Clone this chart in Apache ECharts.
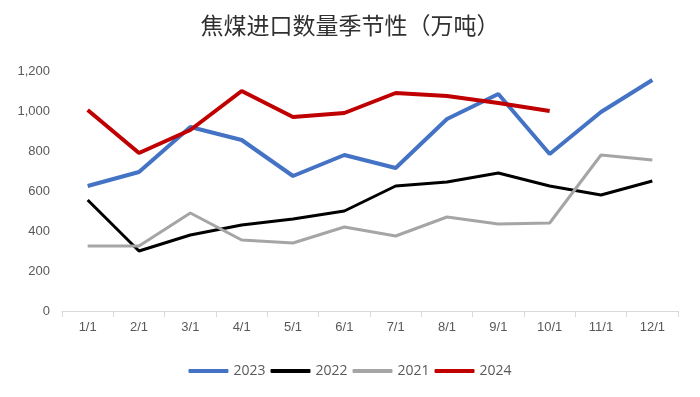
<!DOCTYPE html>
<html>
<head>
<meta charset="utf-8">
<script src="https://cdn.jsdelivr.net/npm/echarts@6/dist/echarts.min.js"></script>
<style>
  html, body { margin: 0; padding: 0; background: #fff; }
  #main { width: 700px; height: 397px; }
</style>
</head>
<body>
<div id="main"></div>
<script>
var months = ['1/1', '2/1', '3/1', '4/1', '5/1', '6/1', '7/1', '8/1', '9/1', '10/1', '11/1', '12/1'];
var y2023 = [625, 695, 920, 855, 675, 780, 715, 960, 1085, 785, 995, 1155];
var y2022 = [555, 300, 380, 430, 460, 500, 625, 645, 690, 625, 580, 650];
var y2021 = [325, 325, 490, 355, 340, 420, 375, 470, 435, 440, 780, 755];
var y2024 = [1005, 790, 905, 1100, 970, 990, 1090, 1075, 1040, 1000];

var chart = echarts.init(document.getElementById('main'));

function line(name, data, color, width) {
    return {
        name: name,
        type: 'line',
        data: data,
        symbol: 'none',
        lineStyle: { color: color, width: width },
        itemStyle: { color: color }
    };
}

chart.setOption({
    animation: false,
    title: {
        text: '焦煤进口数量季节性（万吨）',
        left: 'center',
        top: 9,
        textStyle: {
            fontFamily: 'Noto Sans CJK SC',
            fontSize: 23,
            fontWeight: 'normal',
            color: '#303030'
        }
    },
    legend: {
        bottom: 14,
        left: 'center',
        itemWidth: 40,
        itemHeight: 4,
        itemGap: 5,
        icon: 'roundRect',
        textStyle: { fontSize: 14, color: '#595959', fontFamily: 'Open Sans' },
        data: ['2023', '2022', '2021', '2024']
    },
    grid: { left: 62, right: 22, top: 71, bottom: 86 },
    xAxis: {
        type: 'category',
        data: months,
        boundaryGap: true,
        axisLine: { lineStyle: { color: '#d9d9d9', width: 1 } },
        axisTick: { show: true, length: 6, lineStyle: { color: '#d9d9d9' } },
        axisLabel: { color: '#595959', fontSize: 13, margin: 10 }
    },
    yAxis: {
        type: 'value',
        min: 0,
        max: 1200,
        interval: 200,
        splitLine: { show: false },
        axisLine: { show: false },
        axisTick: { show: false },
        axisLabel: {
            color: '#595959',
            fontSize: 13,
            margin: 12,
            formatter: function (v) { return v.toLocaleString('en-US'); }
        }
    },
    series: [
        line('2023', y2023, '#4472c4', 4),
        line('2022', y2022, '#000000', 3),
        line('2021', y2021, '#a5a5a5', 3),
        line('2024', y2024, '#c00000', 4)
    ]
});
</script>
</body>
</html>
